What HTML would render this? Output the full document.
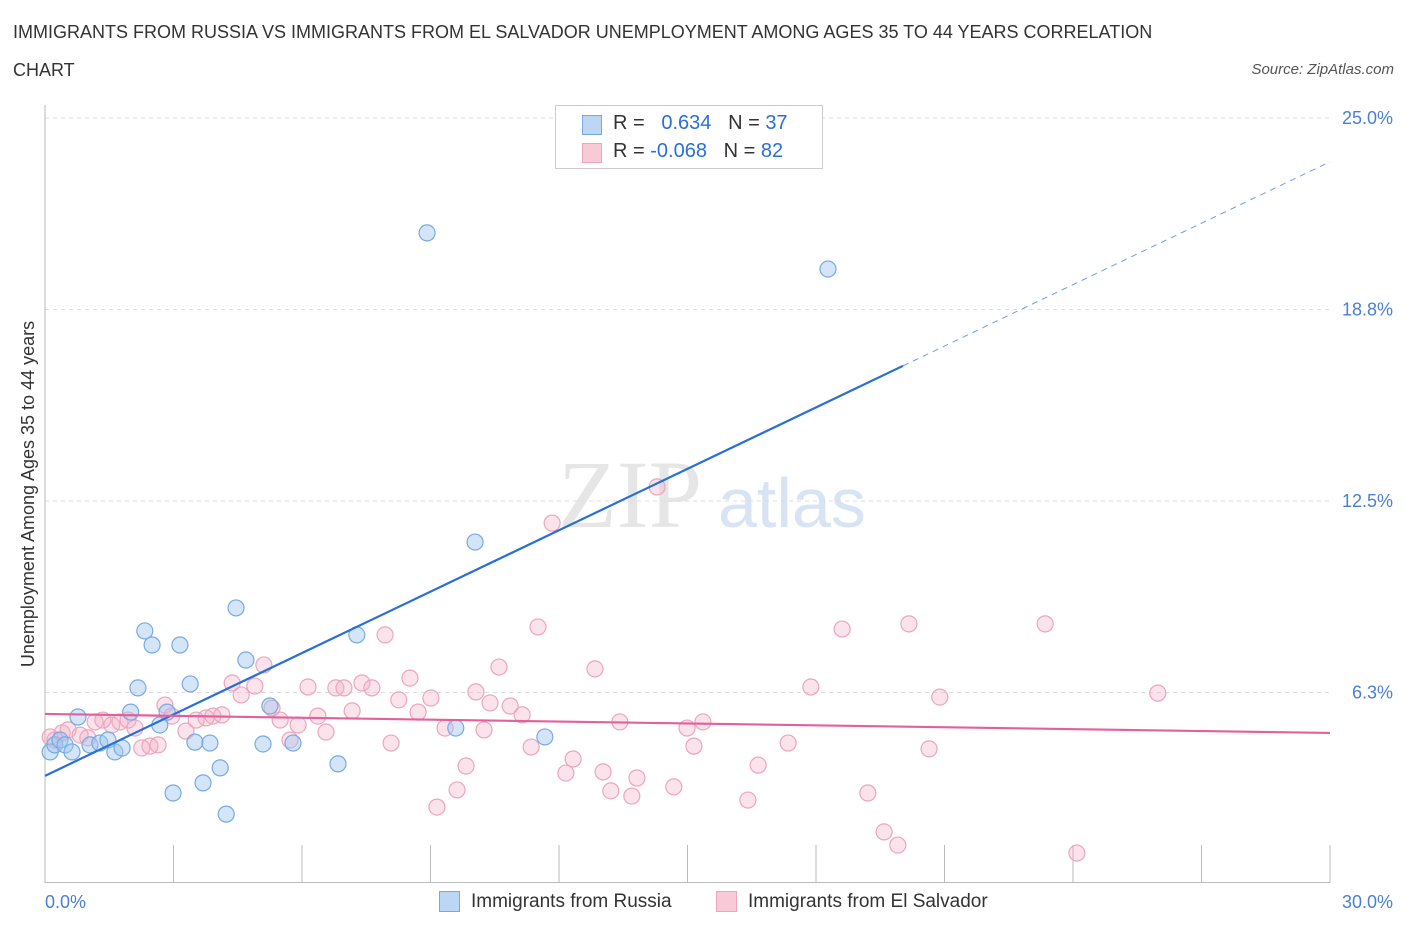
<!DOCTYPE html>
<html><head><meta charset="utf-8"><style>
body{margin:0;background:#fff;font-family:"Liberation Sans",sans-serif;}
#wrap{position:relative;width:1406px;height:930px;overflow:hidden;}
.t{position:absolute;white-space:nowrap;}
</style></head><body>
<div id="wrap">
<div class="t" style="left:13px;top:22px;font-size:18px;color:#333;">IMMIGRANTS FROM RUSSIA VS IMMIGRANTS FROM EL SALVADOR UNEMPLOYMENT AMONG AGES 35 TO 44 YEARS CORRELATION</div>
<div class="t" style="left:13px;top:60px;font-size:18px;color:#333;">CHART</div>
<div class="t" style="right:12px;top:61px;font-size:15px;color:#555;font-style:italic;">Source: ZipAtlas.com</div>
<svg id="svg" width="1406" height="930" style="position:absolute;left:0;top:0"></svg>
</div>
<script>
const NS="http://www.w3.org/2000/svg";
const svg=document.getElementById('svg');
const russiaX=[0.12,0.23,0.35,0.47,0.63,0.77,1.05,1.28,1.47,1.63,1.80,2.00,2.17,2.33,2.50,2.68,2.85,2.99,3.15,3.39,3.50,3.69,3.85,4.09,4.23,4.46,4.69,5.09,5.25,5.79,6.84,7.28,8.92,9.59,10.04,11.67,18.28];
const russiaY=[4.31,4.54,4.70,4.54,4.31,5.45,4.54,4.60,4.70,4.31,4.44,5.61,6.40,8.26,7.80,5.19,5.61,2.97,7.80,6.53,4.63,3.30,4.60,3.79,2.28,9.01,7.31,4.57,5.81,4.60,3.92,8.13,21.25,5.09,11.16,4.80,20.07];
const salvX=[0.12,0.23,0.40,0.54,0.82,1.00,1.17,1.35,1.56,1.75,1.94,2.10,2.26,2.45,2.64,2.80,2.96,3.29,3.53,3.76,3.92,4.13,4.37,4.58,4.90,5.11,5.30,5.49,5.72,5.91,6.14,6.37,6.56,6.79,6.98,7.17,7.40,7.63,7.94,8.08,8.26,8.52,8.71,9.01,9.15,9.34,9.62,9.83,10.06,10.25,10.39,10.60,10.86,11.14,11.35,11.51,11.84,12.16,12.33,12.84,13.03,13.21,13.42,13.70,13.82,14.29,14.68,14.99,15.15,15.36,16.41,16.65,17.35,17.88,18.61,19.21,19.59,19.91,20.17,20.64,20.89,23.35,24.09,25.98];
const salvY=[4.80,4.70,4.93,5.03,4.86,4.77,5.29,5.35,5.19,5.29,5.35,5.09,4.44,4.50,4.54,5.84,5.48,4.99,5.35,5.42,5.48,5.52,6.56,6.17,6.46,7.15,5.74,5.35,4.70,5.19,6.43,5.48,4.96,6.40,6.40,5.65,6.56,6.40,8.13,4.60,6.01,6.72,5.61,6.07,2.51,5.09,3.07,3.85,6.27,5.03,5.91,7.08,5.81,5.52,4.47,8.39,11.78,3.62,4.08,7.02,3.66,3.04,5.29,2.87,3.46,12.96,3.17,5.09,4.50,5.29,2.74,3.88,4.60,6.43,8.32,2.97,1.70,1.27,8.49,4.41,6.10,8.49,1.01,6.23];
const russiaTrend=[3.53,23.57]; // value at 0% and 30%
const russiaSolidEnd=20.03;
const salvTrend=[5.55,4.93];
const yTicks=[25.0,18.8,12.5,6.3];
const yTickVals=[25,18.75,12.5,6.25];
const xTicks=[0,3,6,9,12,15,18,21,24,27,30];
const X=v=>45+v/30*1285;
const Y=v=>884-v*30.64;
function el(tag,a){const e=document.createElementNS(NS,tag);for(const k in a)e.setAttribute(k,a[k]);svg.appendChild(e);return e;}
// watermark
let w=el('text',{x:558,y:527,'font-size':96,fill:'#e6e6e6','font-family':'Liberation Serif,serif'});w.textContent='ZIP';


w=el('text',{x:718,y:527,'font-size':70,fill:'#d8e4f3','font-family':'Liberation Sans,sans-serif'});w.textContent='atlas';


yTickVals.forEach((v,i)=>{
 let g=el('line',{x1:45,x2:1330,y1:Y(v),y2:Y(v),stroke:'#ddd','stroke-dasharray':'4,4'});
 
 
 let t=el('text',{x:1393,y:Y(v)+6,'text-anchor':'end','font-size':18,fill:'#4a7fd4'});t.textContent=yTicks[i].toFixed(1)+'%';
 
 
});
let a=el('line',{x1:45,x2:45,y1:105,y2:883,stroke:'#bbb'});


a=el('line',{x1:45,x2:1330,y1:882.5,y2:882.5,stroke:'#bbb'});


xTicks.forEach(v=>{let t=el('line',{x1:X(v),x2:X(v),y1:845,y2:883,stroke:'#bbb'});
 
 });
let lb=el('text',{x:45,y:908,'font-size':18,fill:'#4a7fd4'});lb.textContent='0.0%';


lb=el('text',{x:1393,y:908,'text-anchor':'end','font-size':18,fill:'#4a7fd4'});lb.textContent='30.0%';


lb=el('text',{x:34,y:494,'text-anchor':'middle','font-size':18,fill:'#333',transform:'rotate(-90 34 494)'});lb.textContent='Unemployment Among Ages 35 to 44 years';


salvX.forEach((x,i)=>{let c=el('circle',{cx:X(x),cy:Y(salvY[i]),r:8,fill:'rgba(244,175,198,0.35)',stroke:'#eca5bd','stroke-width':1.2});
 
 });
russiaX.forEach((x,i)=>{let c=el('circle',{cx:X(x),cy:Y(russiaY[i]),r:8,fill:'rgba(160,198,240,0.45)',stroke:'#78a9e2','stroke-width':1.2});
 
 });
const rAt=v=>russiaTrend[0]+(russiaTrend[1]-russiaTrend[0])*v/30;
let tl=el('line',{x1:X(0),y1:Y(rAt(0)),x2:X(russiaSolidEnd),y2:Y(rAt(russiaSolidEnd)),stroke:'#2a6fd6','stroke-width':2.2});


tl=el('line',{x1:X(russiaSolidEnd),y1:Y(rAt(russiaSolidEnd)),x2:X(30),y2:Y(rAt(30)),stroke:'#6d9ee0','stroke-width':1,'stroke-dasharray':'6,5'});


tl=el('line',{x1:X(0),y1:Y(salvTrend[0]),x2:X(30),y2:Y(salvTrend[1]),stroke:'#e4609a','stroke-width':2.2});


</script>
<div class="t" style="left:555px;top:105px;width:266px;height:62px;border:1px solid #ccc;background:#fff;">
 <div class="t" style="left:26px;top:9px;width:18px;height:18px;background:#bcd6f6;border:1px solid #7aa9e2;"></div>
 <div class="t" style="left:57px;top:6px;font-size:20px;color:#333;">R = &nbsp;<span style="color:#2a6fd6">&nbsp;0.634</span> &nbsp;&nbsp;N = <span style="color:#2a6fd6">37</span></div>
 <div class="t" style="left:26px;top:37px;width:18px;height:18px;background:#f8cad8;border:1px solid #eca5bd;"></div>
 <div class="t" style="left:57px;top:34px;font-size:20px;color:#333;">R = <span style="color:#2a6fd6">-0.068</span> &nbsp;&nbsp;N = <span style="color:#2a6fd6">82</span></div>
</div>
<div class="t" style="left:439px;top:891px;width:19px;height:19px;background:#bcd6f6;border:1px solid #7aa9e2;"></div>
<div class="t" style="left:471px;top:891px;font-size:19px;color:#333;">Immigrants from Russia</div>
<div class="t" style="left:716px;top:891px;width:19px;height:19px;background:#f8cad8;border:1px solid #eca5bd;"></div>
<div class="t" style="left:748px;top:891px;font-size:19px;color:#333;">Immigrants from El Salvador</div>
</body></html>
